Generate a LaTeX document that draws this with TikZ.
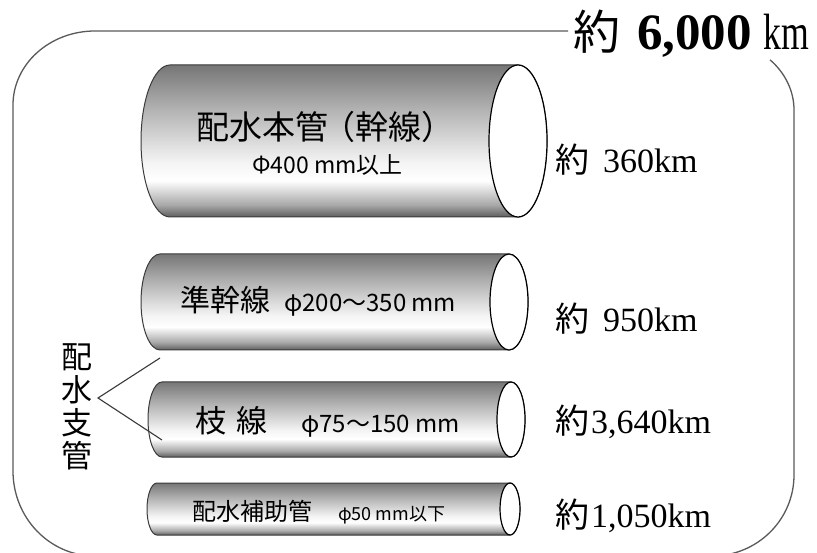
\documentclass[tikz,border=0pt]{standalone}
\usepackage{graphicx}
\usepackage{fontspec}
\setmainfont{Liberation Serif}
\newfontfamily\jp{Noto Sans CJK JP}

\definecolor{pipeA}{HTML}{5E5E5E}
\definecolor{pipeB}{HTML}{A8A8A8}
\definecolor{pipeC}{HTML}{FFFFFF}
\definecolor{pipeD}{HTML}{F4F4F4}
\definecolor{pipeE}{HTML}{B4B4B4}
\definecolor{pipeF}{HTML}{767676}
\definecolor{frameline}{HTML}{5A5A5A}
\definecolor{pipeline}{HTML}{3A3A3A}

% vertical shading for the pipe bodies (25bp = bottom edge, 75bp = top edge)
\pgfdeclareverticalshading{pipeshade}{100bp}{%
  color(0bp)=(pipeA); color(25bp)=(pipeA); color(29bp)=(pipeB);
  color(37bp)=(pipeC); color(43bp)=(pipeD); color(60bp)=(pipeE);
  color(75bp)=(pipeF); color(100bp)=(pipeF)}

% #1 name, #2 left cap centre x, #3 right end centre x, #4 top y, #5 bottom y, #6 end radius
\newcommand{\drawpipe}[6]{%
  \pgfmathsetmacro\pipery{(#4-(#5))/2}%
  \pgfmathsetmacro\pipecy{(#4+(#5))/2}%
  \path[pipebody] (#2,#4) -- (#3,#4)
    arc[start angle=90,end angle=-90,x radius=#6pt,y radius=\pipery pt]
    -- (#2,#5)
    arc[start angle=-90,end angle=-270,x radius=#6pt,y radius=\pipery pt]
    -- cycle;
  \draw[pipeend] (#3,\pipecy) ellipse[x radius=#6pt,y radius=\pipery pt];
  \coordinate (#1) at ({(#2+#3)/2},\pipecy);
}

\begin{document}
\begin{tikzpicture}[x=1pt,y=1pt,
  frame/.style={draw=frameline,line width=1.3pt},
  pipebody/.style={shade,shading=pipeshade,draw=pipeline,line width=1pt},
  pipeend/.style={fill=white,draw=black,line width=1.2pt},
  label/.style={inner sep=0pt,anchor=west},
  length/.style={inner sep=0pt,anchor=base west},
  brace/.style={draw=pipeline,line width=1.1pt}]

\useasboundingbox (0,0) rectangle (817,-553);
\fill[white] (0,0) rectangle (817,-553);

% outer rounded frame, open under the total length
\draw[frame] (568,-31) -- (95,-31)
  arc[start angle=90,end angle=180,x radius=82pt,y radius=74pt]
  -- (13,-471)
  arc[start angle=180,end angle=270,x radius=82pt,y radius=85pt]
  -- (712,-556)
  arc[start angle=270,end angle=360,x radius=82pt,y radius=81pt]
  -- (794,-110)
  arc[start angle=0,end angle=45,x radius=82pt,y radius=71pt];

\node[length] (total) at (573,-50) {{\jp\fontsize{47}{47}\selectfont 約}\hspace*{17pt}{\bfseries\fontsize{51}{51}\selectfont 6,000}\hspace*{12pt}{\fontsize{51}{51}\selectfont\scalebox{0.7}[1]{km}}};

% pipes
\drawpipe{main}{170}{518}{-65}{-217}{29}
\drawpipe{semi}{160}{509}{-254}{-350}{19}
\drawpipe{branchpipe}{162}{511}{-382}{-457}{14}
\drawpipe{aux}{157}{510}{-483}{-535}{10}

% pipe captions
\node[label] (mainA) at (196,-127) {\jp\fontsize{33}{33}\selectfont 配水本管\hspace*{-6pt}（幹線）};
\node[label] (mainB) at (252,-165) {\jp\fontsize{23}{23}\selectfont Φ400 mm以上};
\node[label] (semiA) at (180,-301) {\jp\fontsize{30}{30}\selectfont 準幹線\hspace*{14pt}\fontsize{24}{24}\selectfont φ200〜350 mm};
\node[label] (branchA) at (195,-422) {\jp\fontsize{31}{31}\selectfont 枝\hspace*{10pt}線\hspace*{34pt}\fontsize{24}{24}\selectfont φ75〜150 mm};
\node[label] (auxA) at (192,-512) {\jp\fontsize{24}{24}\selectfont 配水補助管\hspace*{26pt}\fontsize{18}{18}\selectfont φ50 mm以下};

% lengths
\node[length] (len1) at (555,-173) {{\jp\fontsize{34}{34}\selectfont 約}\hspace*{14pt}{\fontsize{34}{34}\selectfont 360km}};
\node[length] (len2) at (555,-332) {{\jp\fontsize{34}{34}\selectfont 約}\hspace*{14pt}{\fontsize{34}{34}\selectfont 950km}};
\node[length] (len3) at (555,-433) {{\jp\fontsize{34}{34}\selectfont 約}\hspace*{2pt}{\fontsize{34}{34}\selectfont 3,640km}};
\node[length] (len4) at (555,-527) {{\jp\fontsize{34}{34}\selectfont 約}\hspace*{2pt}{\fontsize{34}{34}\selectfont 1,050km}};

% distribution branch group
\node[inner sep=0pt,align=center,font=\jp\fontsize{31}{33}\selectfont] (group) at (77,-407) {配\\水\\支\\管};
\coordinate (fork) at (98,-398);
\coordinate (upperend) at (160,-358);
\coordinate (lowerend) at (162,-440);
\draw[brace] (upperend) -- (fork) -- (lowerend);

\end{tikzpicture}
\end{document}
